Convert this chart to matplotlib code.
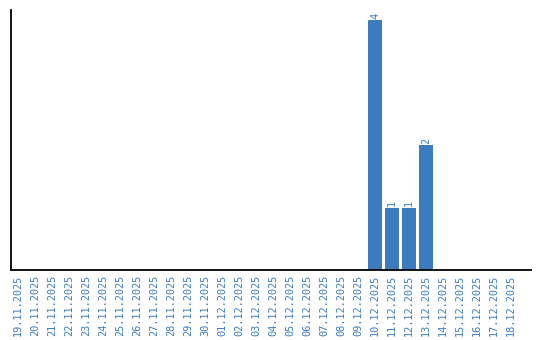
import matplotlib
matplotlib.use("Agg")
import matplotlib.pyplot as plt

# dates shown on the x axis
dates = ["19.11.2025", "20.11.2025", "21.11.2025", "22.11.2025", "23.11.2025",
         "24.11.2025", "25.11.2025", "26.11.2025", "27.11.2025", "28.11.2025",
         "29.11.2025", "30.11.2025", "01.12.2025", "02.12.2025", "03.12.2025",
         "04.12.2025", "05.12.2025", "06.12.2025", "07.12.2025", "08.12.2025",
         "09.12.2025", "10.12.2025", "11.12.2025", "12.12.2025", "13.12.2025",
         "14.12.2025", "15.12.2025", "16.12.2025", "17.12.2025", "18.12.2025"]
counts = [0, 0, 0, 0, 0, 0, 0, 0, 0, 0,
          0, 0, 0, 0, 0, 0, 0, 0, 0, 0,
          0, 4, 1, 1, 2, 0, 0, 0, 0, 0]

blue = "#3b7cc0"
plt.rcParams["font.family"] = ["DejaVu Sans Mono", "DejaVu Sans"]

fig = plt.figure(figsize=(5.4, 3.4), dpi=100)
ax = fig.add_axes([10.5 / 540, 70 / 340, 520.5 / 540, 260 / 340])

x = list(range(len(dates)))
bars = ax.bar(x, counts, width=0.82, color=blue)

# value labels above the non-empty bars
for xi, c in zip(x, counts):
    if c > 0:
        ax.text(xi, c + 0.02, str(c), rotation=90, ha="center", va="bottom",
                color=blue, fontsize=7.4)

ax.set_xlim(-0.44, 30.18)
ax.set_ylim(0, 4.16)
ax.set_xticks(x)
ax.set_xticklabels(dates, rotation=90, color=blue, fontsize=7.4)
ax.tick_params(axis="x", length=0, pad=3.5)
ax.set_yticks([])
ax.spines["top"].set_visible(False)
ax.spines["right"].set_visible(False)
ax.spines["left"].set_linewidth(1.3)
ax.spines["bottom"].set_linewidth(1.3)

fig.savefig("out.png", dpi=100)
